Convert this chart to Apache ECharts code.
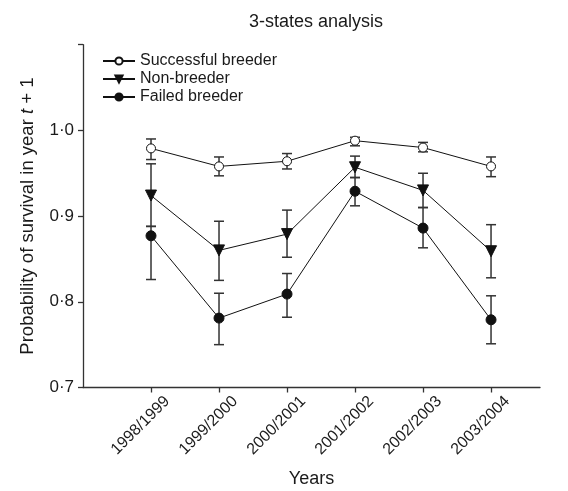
<!DOCTYPE html>
<html><head><meta charset="utf-8">
<script src="https://cdn.jsdelivr.net/npm/echarts@6/dist/echarts.min.js"></script>
<style>html,body{margin:0;padding:0;background:#fff}#c{width:568px;height:491px}</style>
</head><body><div id="c"></div>
<script>
var categories = ['1998/1999','1999/2000','2000/2001','2001/2002','2002/2003','2003/2004'];
var successMean = [0.979, 0.958, 0.964, 0.988, 0.980, 0.958];
var successLow  = [0.966, 0.947, 0.955, 0.982, 0.975, 0.946];
var successHigh = [0.990, 0.969, 0.973, 0.992, 0.986, 0.969];
var nonMean = [0.924, 0.860, 0.879, 0.957, 0.930, 0.859];
var nonLow  = [0.888, 0.825, 0.852, 0.945, 0.910, 0.828];
var nonHigh = [0.961, 0.894, 0.907, 0.970, 0.950, 0.890];
var failMean = [0.877, 0.781, 0.809, 0.929, 0.886, 0.779];
var failLow  = [0.826, 0.750, 0.782, 0.912, 0.863, 0.751];
var failHigh = [0.888, 0.810, 0.833, 0.945, 0.910, 0.807];
var yTicks = [0.7, 0.8, 0.9, 1.0, 1.1];

var FONT = 'Liberation Sans';
var TXT = '#1a1a1a';
function pts(m){ return m.map(function(v,i){ return [i, v]; }); }
function errs(lo, hi){ return lo.map(function(v,i){ return [i, v, hi[i]]; }); }
function errSeries(lo, hi){
  return {
    type: 'custom', silent: true, z: 1,
    data: errs(lo, hi),
    encode: { x: 0, y: [1, 2] },
    renderItem: function(params, api){
      var x = api.value(0);
      var a = api.coord([x, api.value(1)]);
      var b = api.coord([x, api.value(2)]);
      var hw = 5;
      var st = { stroke: '#333', lineWidth: 1.5 };
      return { type: 'group', children: [
        { type: 'line', shape: { x1: a[0], y1: a[1], x2: b[0], y2: b[1] }, style: st },
        { type: 'line', shape: { x1: a[0]-hw, y1: a[1], x2: a[0]+hw, y2: a[1] }, style: st },
        { type: 'line', shape: { x1: b[0]-hw, y1: b[1], x2: b[0]+hw, y2: b[1] }, style: st }
      ]};
    }
  };
}
function lineSeries(name, mean, symbol, fill, size, rot){
  return {
    name: name, type: 'line', z: 3, data: pts(mean),
    symbol: symbol, symbolSize: size, symbolRotate: rot || 0, showAllSymbol: true,
    lineStyle: { color: '#111', width: 1 },
    itemStyle: { color: fill, borderColor: '#111', borderWidth: 1 },
    emphasis: { disabled: true }
  };
}
var chart = echarts.init(document.getElementById('c'));
chart.setOption({
  animation: false,
  backgroundColor: '#fff',
  title: { text: '3-states analysis', left: 311, top: 8, textAlign: 'center',
    textStyle: { fontFamily: FONT, fontSize: 18, fontWeight: 'normal', color: TXT } },
  legend: {
    orient: 'vertical', left: 102, top: 52, itemWidth: 32, itemHeight: 9, itemGap: 0,
    padding: 0,
    textStyle: { fontFamily: FONT, fontSize: 16, lineHeight: 18, color: TXT },
    data: ['Successful breeder', 'Non-breeder', 'Failed breeder']
  },
  grid: { left: 83, right: 28, top: 44.7, bottom: 103.5, outerBoundsMode: 'none', containLabel: false },
  xAxis: {
    type: 'value', min: -1, max: 5.72, interval: 1,
    name: 'Years', nameLocation: 'middle', nameGap: 83,
    nameTextStyle: { fontFamily: FONT, fontSize: 18, color: TXT },
    axisLine: { onZero: false, lineStyle: { color: '#333', width: 1.3 } },
    axisTick: { customValues: [0,1,2,3,4,5], length: 5, inside: false, lineStyle: { color: '#333', width: 1.3 } },
    axisLabel: { customValues: [0,1,2,3,4,5], rotate: 45, margin: -5,
      align: 'right', verticalAlign: 'top', padding: [15,0,0,0], lineHeight: 16,
      fontFamily: FONT, fontSize: 16, color: TXT,
      formatter: function(v){ return categories[Math.round(v)] || ''; } },
    splitLine: { show: false }
  },
  yAxis: {
    type: 'value', min: 0.7, max: 1.1, interval: 0.1,
    name: '{n|Probability of survival in year }{i|t}{n| + 1}', nameLocation: 'middle', nameGap: 46,
    nameTextStyle: { fontFamily: FONT, fontSize: 18.5, color: TXT,
      rich: { n: { fontFamily: FONT, fontSize: 18.5, color: TXT },
              i: { fontFamily: FONT, fontSize: 18.5, color: TXT, fontStyle: 'italic' } } },
    axisLine: { show: true, onZero: false, lineStyle: { color: '#333', width: 1.3 } },
    axisTick: { show: true, length: 5, lineStyle: { color: '#333', width: 1.3 } },
    axisLabel: { margin: 9, fontFamily: FONT, fontSize: 17, color: TXT,
      formatter: function(v){ if (v > 1.05) return ''; return (Math.round(v*10)/10).toFixed(1).replace('.', '\u00b7'); } },
    splitLine: { show: false }
  },
  series: [
    errSeries(successLow, successHigh),
    errSeries(nonLow, nonHigh),
    errSeries(failLow, failHigh),
    lineSeries('Successful breeder', successMean, 'circle', '#fff', 9),
    lineSeries('Non-breeder', nonMean, 'triangle', '#111', 11, 180),
    lineSeries('Failed breeder', failMean, 'circle', '#111', 10)
  ]
});
</script></body></html>
